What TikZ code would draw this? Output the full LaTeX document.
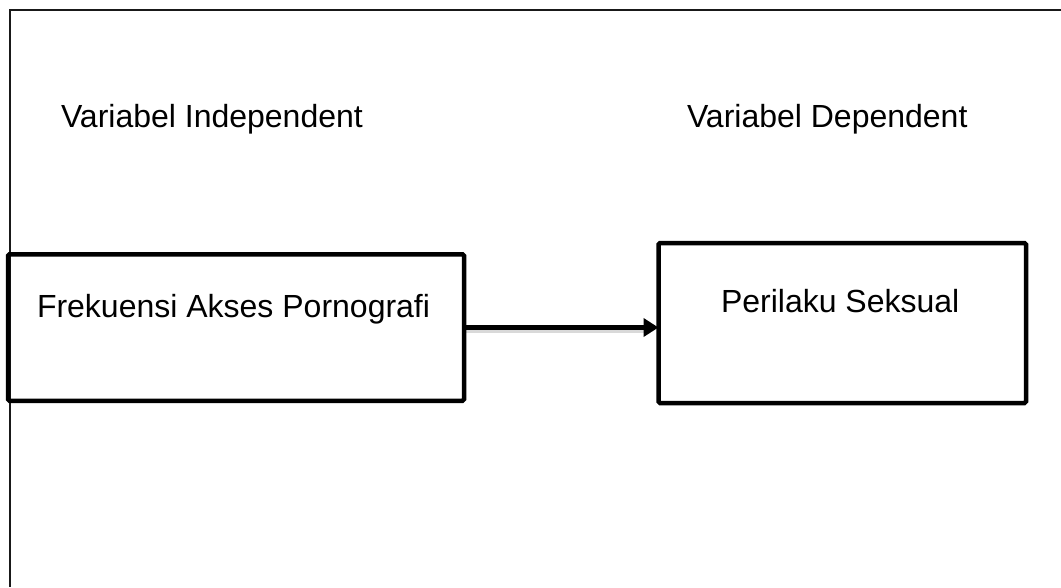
\documentclass[tikz,border=0pt]{standalone}
\usepackage{fontspec}
\setmainfont{Liberation Sans}
\usetikzlibrary{arrows.meta}

\tikzset{
  frameline/.style={line width=2pt, draw=black!90},
  varbox/.style={draw=black, line width=4.5pt, rounded corners=1.5pt, inner sep=0pt, outer sep=0pt},
  label/.style={anchor=base west, inner sep=0pt, outer sep=0pt, font=\fontsize{32}{38}\selectfont},
  link/.style={line width=5pt, -{Triangle[length=15pt,width=18pt]}},
  linkshade/.style={line width=5pt, draw=black, opacity=0.15},
}

\begin{document}
\begin{tikzpicture}[x=1pt,y=-1pt]
  \useasboundingbox (0,0) rectangle (1061,587);

  % page frame: top and left rules only
  \draw[frameline] (1061,10) -- (9.5,10) -- (9.5,587);

  % column headings
  \node[label] (hin) at (61,127) {Variabel Independent};
  \node[label] (hdep) at (687,127) {Variabel Dependent};

  % variable boxes
  \node[varbox, minimum width=456pt, minimum height=146.5pt] (fa) at (236,327.5) {};
  \node[varbox, minimum width=367.5pt, minimum height=160pt] (ps) at (842.25,323) {};

  % box captions
  \node[label] (tfa) at (37,317) {Frekuensi Akses Pornografi};
  \node[label] (tps) at (721,312) {Perilaku Seksual};

  % influence arrow with a soft shadow
  \coordinate (shA) at ([yshift=-2.5pt]fa.east);
  \coordinate (shB) at ([xshift=-14pt]shA -| ps.west);
  \draw[linkshade] (shA) -- (shB);
  \draw[link] (fa.east) -- (fa.east -| ps.west);
\end{tikzpicture}
\end{document}
